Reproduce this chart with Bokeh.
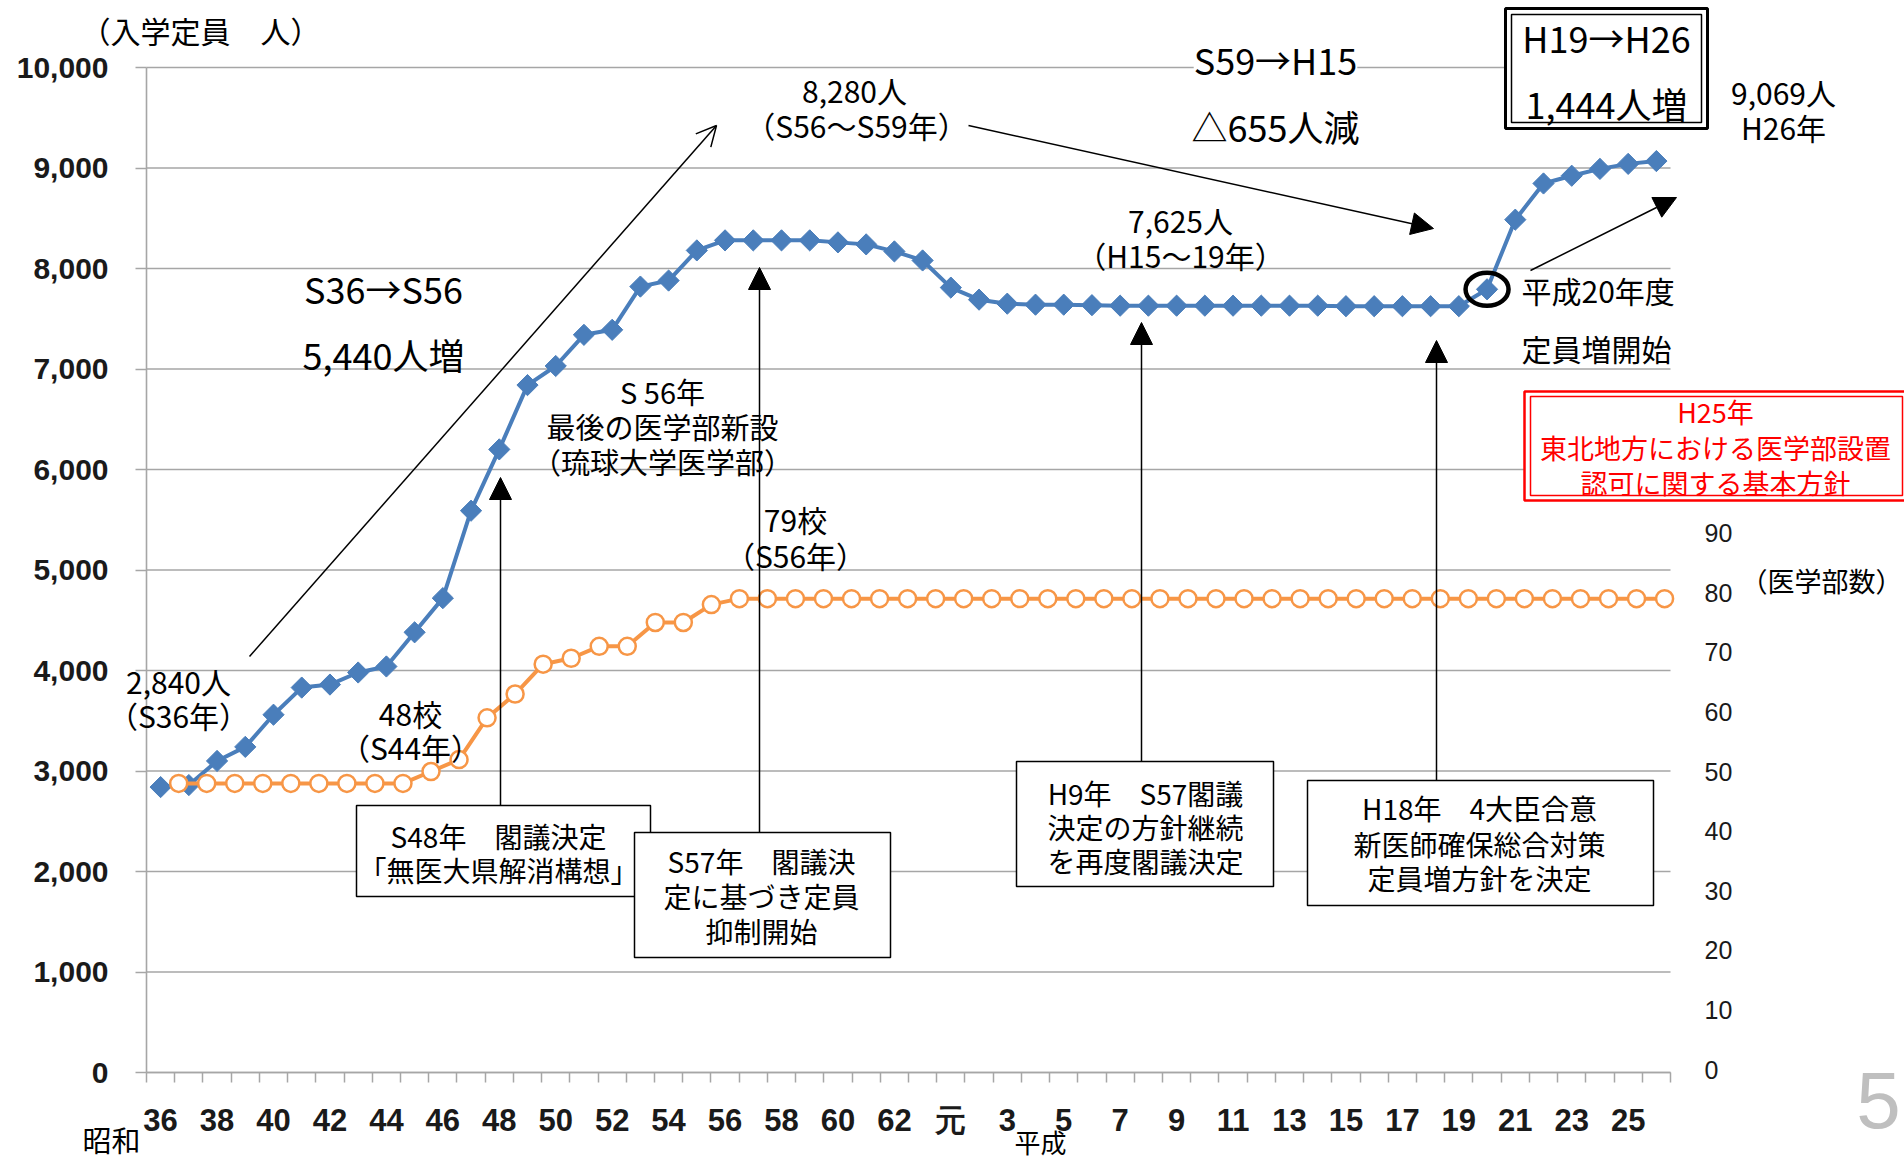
import math
from bokeh.plotting import figure
from bokeh.models import (Range1d, LinearAxis, FixedTicker, NumeralTickFormatter, Label,
                          BoxAnnotation, Arrow, NormalHead, OpenHead)
from bokeh.embed import file_html
from bokeh.resources import INLINE

# ---------------------------------------------------------------- data
# 年度: 昭和36年 (S36) ～ 平成26年 (H26)
showa_years = list(range(36, 64))          # S36..S63
heisei_years = list(range(1, 27))          # H1..H26
years = [f"S{y}" for y in showa_years] + [f"H{y}" for y in heisei_years]

# 医学部入学定員 (人)
enrollment = [2840, 2860, 3100, 3240, 3560, 3830, 3860, 3980, 4040, 4380,
              4720, 5590, 6200, 6840, 7030, 7340, 7390, 7820, 7880, 8180,
              8280, 8280, 8280, 8280, 8260, 8240, 8170, 8080,
              7810, 7690, 7650, 7640, 7640, 7635, 7630, 7630, 7630, 7630,
              7630, 7630, 7630, 7630,
              7625, 7625, 7625, 7625, 7625,
              7793, 8486, 8846, 8923, 8991, 9041, 9069]

# 医学部数 (校)
schools = [48, 48, 48, 48, 48, 48, 48, 48, 48,
           50, 52, 59, 63, 68, 69, 71, 71, 75, 75, 78,
           79, 79, 79, 79, 79, 79, 79, 79, 79, 79, 79, 79, 79, 79, 79, 79, 79,
           79, 79, 79, 79, 79, 79, 79, 79, 79, 79, 79, 79, 79, 79, 79, 79, 79]

# x-axis tick labels (every other year)
tick_labels = ["36", "38", "40", "42", "44", "46", "48", "50", "52", "54", "56",
               "58", "60", "62", "元", "3", "5", "7", "9", "11", "13", "15", "17",
               "19", "21", "23", "25"]
tick_years = ([f"S{y}" for y in range(36, 64, 2)] +
              [f"H{y}" for y in range(1, 26, 2)])

left_ticks = list(range(0, 10001, 1000))
right_ticks = list(range(0, 91, 10))

# ---------------------------------------------------------------- layout
# The figure frame covers the whole page; the plotting area sits inside it
# (FL..FR horizontally, FT..FB vertically, in page pixels) and the axes are
# pinned to its edges with fixed_location.
W, H = 1904, 1165
FL, FR, FT, FB = 146, 1670, 67, 1072
N = len(years)
Y_MAX = 10000

BLUE = "#4a7ebb"
ORANGE = "#f79646"
GRID = "#a6a6a6"
JP = "Noto Sans CJK JP"
NUM = "Liberation Sans"


def dx(px):
    return -0.5 + (px - FL) / (FR - FL) * N


def dy(py):
    return (FB - py) / (FB - FT) * Y_MAX


# school-count scale: value r sits at 29.5 + 59.31 * r on the enrollment scale
S_OFF, S_K = 29.5, 59.31
# school-count x positions: index a..b spans the plotting area
SA, SB = -1.1476, 53.211


def sx_of(main_x):
    return SA + (main_x + 0.5) * (SB - SA) / N


p = figure(width=W, height=H,
           x_range=Range1d(dx(0), dx(W)), y_range=Range1d(dy(H), dy(0)),
           output_backend="svg", toolbar_location=None, min_border=0)
p.outline_line_color = None
p.background_fill_color = "white"
p.border_fill_color = "white"
p.xgrid.visible = False
p.ygrid.visible = False

p.extra_x_ranges = {"sx": Range1d(sx_of(dx(0)), sx_of(dx(W)))}
p.extra_y_ranges = {"schools": Range1d((dy(H) - S_OFF) / S_K, (dy(0) - S_OFF) / S_K)}

# horizontal grid lines
p.segment(x0=[-0.5] * len(left_ticks), x1=[N - 0.5] * len(left_ticks),
          y0=left_ticks, y1=left_ticks, line_color=GRID, line_width=1.6)

# bottom axis: labels every two years, tick marks between categories
xax = p.xaxis[0]
xax.fixed_location = 0
xax.bounds = (-0.5, N - 0.5)
label_pos = [years.index(t) for t in tick_years]
xax.ticker = FixedTicker(ticks=label_pos, minor_ticks=[i - 0.5 for i in range(N + 1)])
xax.major_label_overrides = {pos: lab for pos, lab in zip(label_pos, tick_labels)}
xax.major_tick_out = 0
xax.major_tick_in = 0
xax.minor_tick_out = 10
xax.minor_tick_in = 0
xax.minor_tick_line_color = GRID
xax.minor_tick_line_width = 1.5
xax.axis_line_color = GRID
xax.axis_line_width = 1.6
xax.major_label_text_font = NUM
xax.major_label_text_font_style = "bold"
xax.major_label_text_font_size = "31px"
xax.major_label_text_color = "#1a1a1a"
xax.major_label_standoff = 20

# left axis
yax = p.yaxis[0]
yax.fixed_location = -0.5
yax.bounds = (0, Y_MAX)
yax.ticker = FixedTicker(ticks=left_ticks, minor_ticks=[])
yax.formatter = NumeralTickFormatter(format="0,0")
yax.major_tick_out = 11
yax.major_tick_in = 0
yax.major_tick_line_color = GRID
yax.major_tick_line_width = 1.5
yax.axis_line_color = GRID
yax.axis_line_width = 1.6
yax.major_label_text_font = NUM
yax.major_label_text_font_style = "bold"
yax.major_label_text_font_size = "30px"
yax.major_label_text_color = "#1a1a1a"
yax.major_label_standoff = 27

# right axis (医学部数)
rax = LinearAxis(y_range_name="schools", fixed_location=N - 0.5,
                 ticker=FixedTicker(ticks=right_ticks, minor_ticks=[]))
rax.axis_line_color = None
rax.major_tick_line_color = None
rax.minor_tick_line_color = None
rax.major_label_text_font = NUM
rax.major_label_text_font_size = "25px"
rax.major_label_text_color = "#1a1a1a"
rax.major_label_standoff = 28
p.add_layout(rax, "right")

# ---------------------------------------------------------------- series
xi = list(range(N))
p.line(xi, enrollment, line_color=BLUE, line_width=4)
p.scatter(xi, enrollment, marker="square", angle=math.pi / 4, size=15,
          fill_color=BLUE, line_color=BLUE)

xs = list(range(len(schools)))
p.line(xs, schools, x_range_name="sx", y_range_name="schools",
       line_color=ORANGE, line_width=4)
p.scatter(xs, schools, x_range_name="sx", y_range_name="schools",
          marker="circle", size=17, fill_color="white", line_color=ORANGE, line_width=2.5)

# ring around H20 (定員増開始)
h20 = years.index("H20")
p.ellipse(x=[h20], y=[enrollment[h20]], width=43, height=33,
          width_units="screen", height_units="screen",
          fill_color=None, line_color="black", line_width=4.5)

# ---------------------------------------------------------------- annotations


def box(x0, y0, x1, y1, color="black", width=1.5):
    p.add_layout(BoxAnnotation(left=dx(x0), right=dx(x1), top=dy(y0), bottom=dy(y1),
                               fill_color="white", fill_alpha=1.0,
                               line_color=color, line_width=width, line_alpha=1.0))


def text(s, x, y, size=29, color="black", align="center", bg=None, font=JP):
    kw = {}
    if bg:
        kw = dict(background_fill_color=bg, background_fill_alpha=1.0)
    p.add_layout(Label(x=dx(x), y=dy(y), text=s, text_align=align, text_baseline="middle",
                       text_font=font, text_font_size=f"{size}px", text_color=color, **kw))


def arrow(x0, y0, x1, y1, head="normal", size=22):
    if head == "open":
        h = OpenHead(size=size, line_width=1.5, line_color="black")
    else:
        h = NormalHead(size=size, fill_color="black", line_color="black", line_width=1)
    p.add_layout(Arrow(end=h, x_start=dx(x0), y_start=dy(y0), x_end=dx(x1), y_end=dy(y1),
                       line_color="black", line_width=1.5))


# arrows from the boxes up to the curve
arrow(500, 805, 500, 477)
arrow(759, 832, 759, 267)
arrow(1141, 761, 1141, 322)
arrow(1436, 780, 1436, 340)
# trend arrows
arrow(249, 656, 716, 125, head="open", size=20)
arrow(968, 125, 1433, 228)
arrow(1530, 270, 1676, 197)

# boxed notes
box(356, 805, 650, 896)
text("S48年　閣議決定", 498, 835, 28)
text("「無医大県解消構想」", 498, 869, 28)

box(634, 832, 890, 957)
text("S57年　閣議決", 761, 860, 28)
text("定に基づき定員", 761, 895, 28)
text("抑制開始", 761, 930, 28)

box(1016, 761, 1273, 886)
text("H9年　S57閣議", 1145, 792, 28)
text("決定の方針継続", 1145, 826, 28)
text("を再度閣議決定", 1145, 860, 28)

box(1307, 780, 1653, 905)
text("H18年　4大臣合意", 1479, 807, 28)
text("新医師確保総合対策", 1479, 843, 28)
text("定員増方針を決定", 1479, 877, 28)

# double-framed summary box
box(1505, 8, 1707, 128, width=3)
box(1511, 14, 1701, 122, width=1.5)
text("H19→H26", 1606, 36, 36)
text("1,444人増", 1606, 102, 36)

# red double-framed box
box(1524, 391, 1912, 500, color="#ff0000", width=2.5)
box(1530, 396, 1902, 495, color="#ff0000", width=1.5)
text("H25年", 1715, 411, 27, color="#ff0000")
text("東北地方における医学部設置", 1715, 447, 27, color="#ff0000")
text("認可に関する基本方針", 1715, 482, 27, color="#ff0000")

# free text
text("（入学定員　人）", 200, 29, 30)
text("8,280人", 854, 89, 30)
text("（S56～S59年）", 856, 124, 30)
text("S36→S56", 383, 287, 36)
text("5,440人増", 383, 353, 36)
text("S59→H15", 1275, 58, 36, bg="white")
text("△655人減", 1275, 125, 36)
text("9,069人", 1783, 91, 30)
text("H26年", 1783, 126, 30)
text("7,625人", 1180, 219, 30)
text("（H15～19年）", 1180, 254, 30)
text("平成20年度", 1521, 289, 30, align="left")
text("定員増開始", 1521, 347, 30, align="left")
text("S 56年", 662, 390, 29)
text("最後の医学部新設", 662, 425, 29)
text("（琉球大学医学部）", 662, 460, 29)
text("2,840人", 178, 680, 30)
text("（S36年）", 178, 714, 30)
text("48校", 410, 712, 30)
text("（S44年）", 410, 746, 30)
text("79校", 795, 518, 30)
text("（S56年）", 795, 554, 30)
text("（医学部数）", 1821, 580, 27)
text("昭和", 111, 1138, 29)
text("平成", 1040, 1141, 26)
text("5", 1878, 1100, 80, color="#bfbfbf", font="Liberation Sans")

open("out.html", "w").write(file_html(p, INLINE))
